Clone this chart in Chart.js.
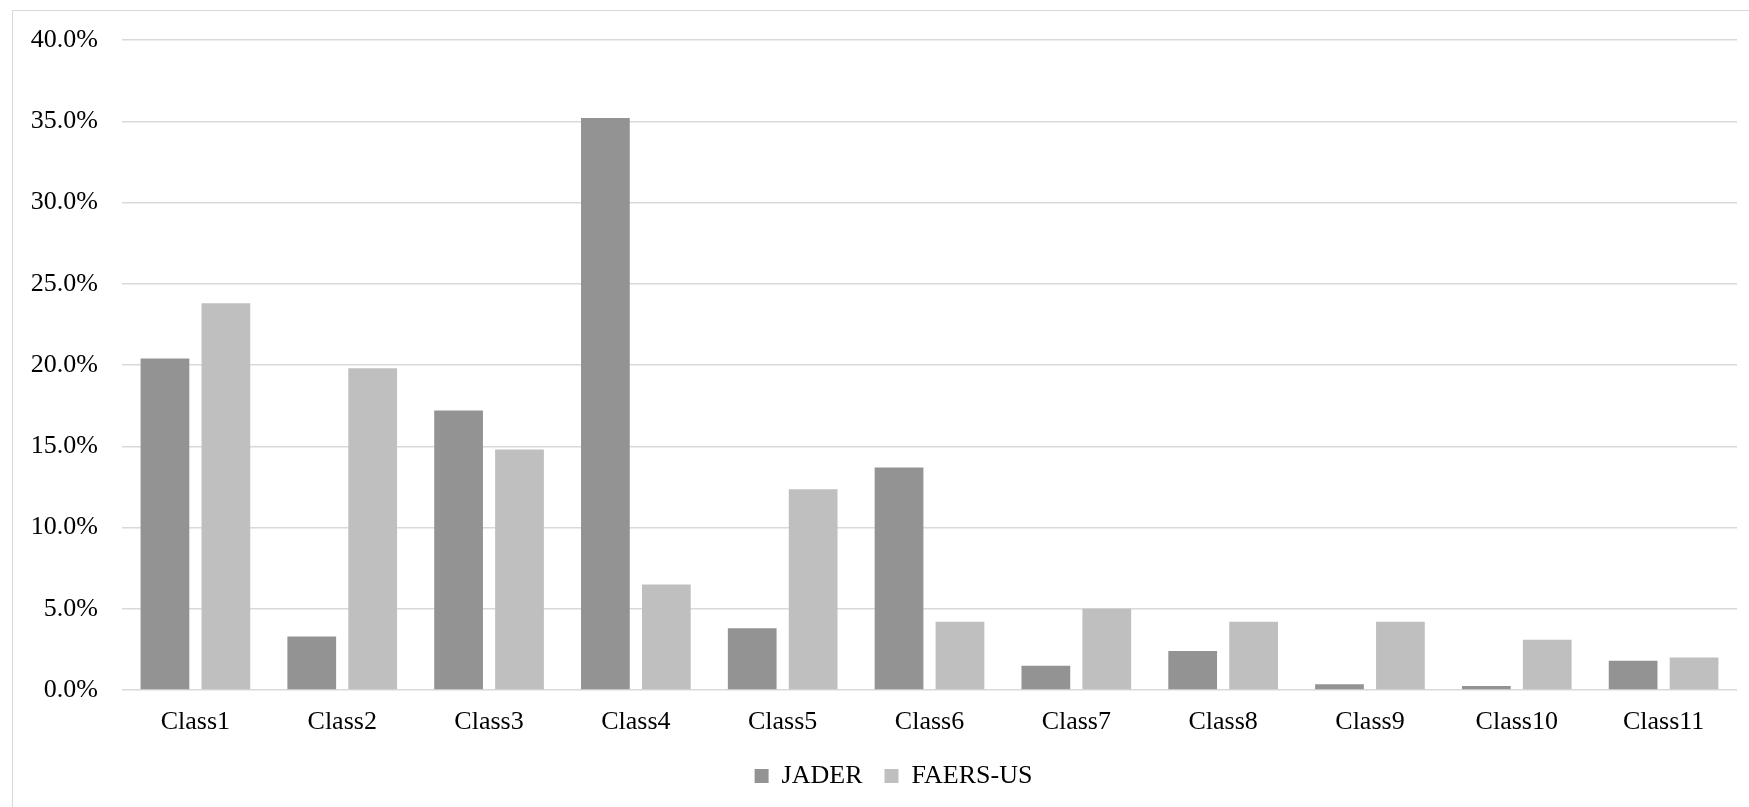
<!DOCTYPE html>
<html>
<head>
<meta charset="utf-8">
<script src="https://cdn.jsdelivr.net/npm/chart.js@4/dist/chart.umd.min.js"></script>
<style>
  html, body { margin: 0; padding: 0; background: #fff; font-family: "Liberation Serif", serif; }
  #frame { position: absolute; left: 12px; top: 10px; width: 1760px; height: 820px;
           border-left: 1.5px solid #d9d9d9; border-top: 1.5px solid #d9d9d9; }
  #wrap { position: absolute; left: 0; top: 0; width: 1749px; height: 807px; }
</style>
</head>
<body>
<div id="frame"></div>
<div id="wrap"><canvas id="chart"></canvas></div>
<script>
const categories = ["Class1", "Class2", "Class3", "Class4", "Class5", "Class6", "Class7", "Class8", "Class9", "Class10", "Class11"];
const jader = [20.4, 3.3, 17.2, 35.2, 3.8, 13.7, 1.5, 2.4, 0.35, 0.25, 1.8];
const faersUs = [23.8, 19.8, 14.8, 6.5, 12.35, 4.2, 5.0, 4.2, 4.2, 3.1, 2.0];
const yTicks = [0, 5, 10, 15, 20, 25, 30, 35, 40];

const FONT = "Liberation Serif";
const GRID = "#d9d9d9";

Chart.defaults.font.family = FONT;
Chart.defaults.color = "#000";

// legend in the original sits a bit right of the canvas centre
const legendShift = {
  id: "legendShift",
  afterLayout: function (chart) {
    if (chart.legend) {
      chart.legend.left += 25;
      chart.legend.right += 25;
    }
  }
};

function draw() {
  new Chart(document.getElementById("chart"), {
    type: "bar",
    data: {
      labels: categories,
      datasets: [
        { label: "JADER", data: jader, backgroundColor: "#939393", categoryPercentage: 0.83, barPercentage: 0.8 },
        { label: "FAERS-US", data: faersUs, backgroundColor: "#bfbfbf", categoryPercentage: 0.83, barPercentage: 0.8 }
      ]
    },
    options: {
      responsive: true,
      maintainAspectRatio: false,
      animation: false,
      layout: { padding: { left: 0, right: 12, top: 40, bottom: 8 } },
      scales: {
        x: {
          grid: { display: false },
          border: { display: false },
          ticks: { color: "#000", font: { family: FONT, size: 26 }, padding: 9, maxRotation: 0 },
          afterFit: function (s) { s.height = 51; }
        },
        y: {
          min: 0,
          max: 40,
          afterBuildTicks: function (s) { s.ticks = yTicks.map(function (v) { return { value: v }; }); },
          grid: { color: GRID, lineWidth: 1.5, drawTicks: false },
          border: { display: false },
          ticks: {
            color: "#000",
            font: { family: FONT, size: 26 },
            padding: 24,
            callback: function (v) { return v.toFixed(1) + "%"; }
          },
          afterFit: function (s) { s.width = 122; }
        }
      },
      plugins: {
        legend: {
          position: "bottom",
          labels: { color: "#000", font: { family: FONT, size: 26 }, boxWidth: 14, boxHeight: 14, padding: 22 }
        },
        tooltip: { enabled: false }
      }
    },
    plugins: [legendShift]
  });
}

if (document.fonts && document.fonts.load) {
  document.fonts.load('26px "Liberation Serif"').then(draw, draw);
} else {
  draw();
}
</script>
</body>
</html>
